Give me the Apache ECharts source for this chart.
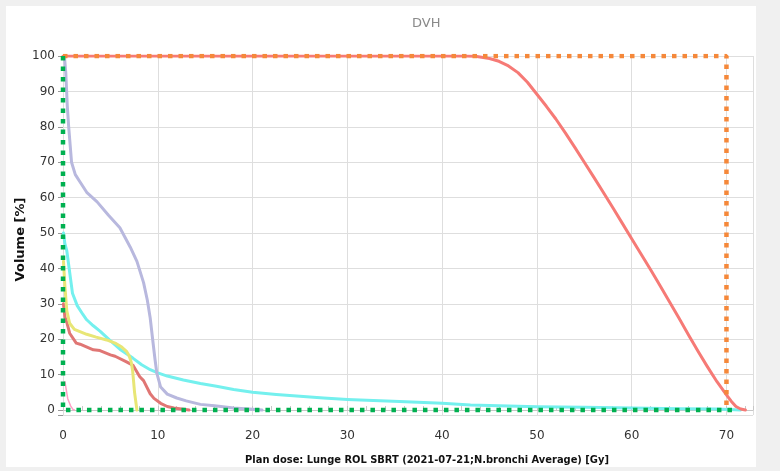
<!DOCTYPE html>
<html>
<head>
<meta charset="utf-8">
<script src="https://cdn.jsdelivr.net/npm/echarts@6/dist/echarts.min.js"></script>
<style>
  html, body { margin: 0; padding: 0; background: #f0f0f0; }
  #panel { position: absolute; left: 6px; top: 6px; width: 750px; height: 461px; background: #ffffff; }
  #chart { position: absolute; left: 0; top: 0; width: 780px; height: 471px; }
</style>
</head>
<body>
<div id="panel"></div>
<div id="chart"></div>
<script>
// ---- data (dose in Gy, volume in %) ----
const chartTitle = 'DVH';
const xAxisName = 'Plan dose: Lunge ROL SBRT (2021-07-21;N.bronchi Average) [Gy]';
const yAxisName = 'Volume [%]';

// PTV-like curve (salmon)
const ptvDose = [0, 40, 42.5, 43.5, 44, 45, 46, 47, 48, 49, 50, 51, 52, 53, 54, 55, 56, 57, 58, 59, 60, 61, 62, 63, 64, 65, 66, 67, 68, 69, 70, 70.5, 71, 71.5, 72];
const ptvVol  = [100, 100, 100, 99.9, 99.7, 99.3, 98.5, 97.2, 95.3, 92.6, 89.2, 85.8, 82.2, 78.3, 74.2, 70, 65.8, 61.5, 57.2, 52.8, 48.4, 44, 39.6, 35.1, 30.5, 25.9, 21.2, 16.6, 12.2, 8, 4.3, 2.5, 1, 0.3, 0];

// lavender curve
const lavDose = [0.15, 0.3, 0.45, 0.6, 0.9, 1.3, 1.8, 2.5, 3.6, 4.8, 6, 7.1, 7.8, 8.5, 8.9, 9.2, 9.5, 9.7, 9.9, 10.3, 11, 12, 13, 14.5, 16, 18, 20, 21];
const lavVol  = [100, 95, 86, 80, 70, 66.5, 64.4, 61.5, 58.8, 55, 51.5, 46, 42, 36, 31, 26, 19, 14.5, 10.4, 6.5, 4.5, 3.4, 2.6, 1.6, 1.2, 0.6, 0.25, 0];

// cyan curve
const cyanDose = [0.05, 0.2, 0.4, 1.0, 1.5, 2.1, 2.5, 3.2, 3.9, 4.9, 6, 7.4, 8.3, 9.2, 10, 11, 12.7, 14.5, 16.2, 18, 20, 22.5, 25, 27.5, 30, 35.5, 40, 43, 46, 50, 55, 60, 65, 69, 71.5];
const cyanVol  = [50, 47, 45, 33, 29.5, 27, 25.5, 23.8, 22.3, 19.8, 17.2, 14.6, 12.8, 11.4, 10.5, 9.6, 8.5, 7.5, 6.7, 5.8, 5.0, 4.4, 3.9, 3.4, 3.0, 2.4, 1.9, 1.4, 1.2, 0.9, 0.8, 0.6, 0.4, 0.3, 0];

// yellow curve
const yelDose = [0.05, 0.2, 0.4, 0.7, 1.2, 2.5, 3.5, 4.6, 5.5, 6.2, 6.7, 7.0, 7.2, 7.35, 7.45, 7.55, 7.7, 7.8];
const yelVol  = [42, 35, 28, 24.5, 22.8, 21.4, 20.6, 19.8, 18.9, 17.8, 16.6, 15.2, 13.5, 11, 8, 5, 2, 0];

// dark red curve
const redDose = [0.05, 0.2, 0.4, 0.7, 1.4, 1.8, 3.2, 3.9, 5, 5.5, 6.7, 7.4, 8.1, 8.5, 9.2, 9.6, 10.3, 11, 11.7, 12.5, 13.3];
const redVol  = [30, 26.3, 24.8, 21.7, 18.9, 18.6, 17, 16.8, 15.6, 15.2, 13.6, 12.6, 9.4, 8.3, 4.6, 3.3, 1.9, 1.0, 0.6, 0.3, 0];

// pink curve
const pinkDose = [0.2, 0.5, 0.8, 1.05, 1.2];
const pinkVol  = [8, 3.2, 1.2, 0.2, 0];

// orange dotted reference (prescription box)
const orangeDose = [0, 70, 70];
const orangeVol  = [100, 100, 0];

// green dotted reference
const greenDose = [0, 0, 71];
const greenVol  = [100, 0, 0];

const xTicks = [0, 10, 20, 30, 40, 50, 60, 70];
const yTicks = [0, 10, 20, 30, 40, 50, 60, 70, 80, 90, 100];

// ---- build ----
function pairs(xs, ys) { return xs.map((x, i) => [x, ys[i]]); }

const chart = echarts.init(document.getElementById('chart'), null, { renderer: 'canvas' });

const curveLine = (name, xs, ys, color, width) => ({
  name, type: 'line', data: pairs(xs, ys), xAxisIndex: 0, yAxisIndex: 0,
  showSymbol: false, symbol: 'none', smooth: false, animation: false,
  lineStyle: { color, width, cap: 'round', join: 'round' }, z: 3
});
const dottedLine = (name, xs, ys, color, z) => ({
  name, type: 'line', data: pairs(xs, ys), xAxisIndex: 0, yAxisIndex: 0,
  showSymbol: false, symbol: 'none', animation: false,
  lineStyle: { color, width: 4.5, type: [4.5, 6], cap: 'butt' }, z
});

const tickFont = { fontFamily: 'DejaVu Sans, sans-serif', fontSize: 12, color: '#333333' };

chart.setOption({
  animation: false,
  backgroundColor: 'transparent',
  title: {
    text: chartTitle, left: 407, top: 12,
    textStyle: { fontFamily: 'DejaVu Sans, sans-serif', fontSize: 13, fontWeight: 'normal', color: '#8a8a8a' }
  },
  grid: { left: 63, right: 27, top: 56, bottom: 52, containLabel: false },
  xAxis: [
    {
      type: 'value', min: 0, max: 72.8, interval: 2, position: 'bottom',
      name: xAxisName, nameLocation: 'middle', nameGap: 40,
      nameTextStyle: { fontFamily: "'DejaVu Sans Condensed', sans-serif", fontWeight: 'bold', fontSize: 11, color: '#111111', padding: [0, 0, 0, 38] },
      axisLine: { show: true, lineStyle: { color: '#c6c6c6', width: 1 } },
      axisTick: { show: true, inside: true, length: 4, lineStyle: { color: '#c6c6c6' } },
      axisLabel: Object.assign({ margin: 15, formatter: v => (xTicks.indexOf(v) >= 0 ? String(v) : '') }, tickFont),
      splitLine: { show: false }
    },
    {
      type: 'value', min: 0, max: 72.8, interval: 10, position: 'bottom',
      axisLine: { show: false }, axisTick: { show: false }, axisLabel: { show: false },
      splitLine: { show: true, lineStyle: { color: '#dedede', width: 1 } }
    }
  ],
  yAxis: {
    type: 'value', min: -1.4, max: 100, minInterval: 10, maxInterval: 10, splitNumber: 10,
    name: yAxisName, nameLocation: 'middle', nameGap: 36, nameRotate: 90, nameMoveOverlap: false,
    nameTextStyle: { fontFamily: 'DejaVu Sans, sans-serif', fontWeight: 'bold', fontSize: 13, color: '#111111', padding: [0, 8, 0, 0] },
    axisLine: { show: false },
    axisTick: { show: true, length: 5, lineStyle: { color: '#999999' } },
    axisLabel: Object.assign({ margin: 8, formatter: v => (yTicks.indexOf(v) >= 0 ? String(v) : '') }, tickFont),
    splitLine: { show: true, lineStyle: { color: '#dedede', width: 1 } }
  },
  series: [
    curveLine('Cyan', cyanDose, cyanVol, '#74f0ee', 3),
    curveLine('Lavender', lavDose, lavVol, '#b8b8de', 3),
    curveLine('Dark red', redDose, redVol, '#e07674', 3),
    curveLine('Yellow', yelDose, yelVol, '#e8e676', 3),
    curveLine('Pink', pinkDose, pinkVol, '#ff9ec6', 1.5),
    curveLine('PTV', ptvDose, ptvVol, '#f67a76', 3),
    dottedLine('Orange ref', orangeDose, orangeVol, '#f5883a', 5),
    dottedLine('Green ref', greenDose, greenVol, '#00b050', 6)
  ]
});
</script>
</body>
</html>
